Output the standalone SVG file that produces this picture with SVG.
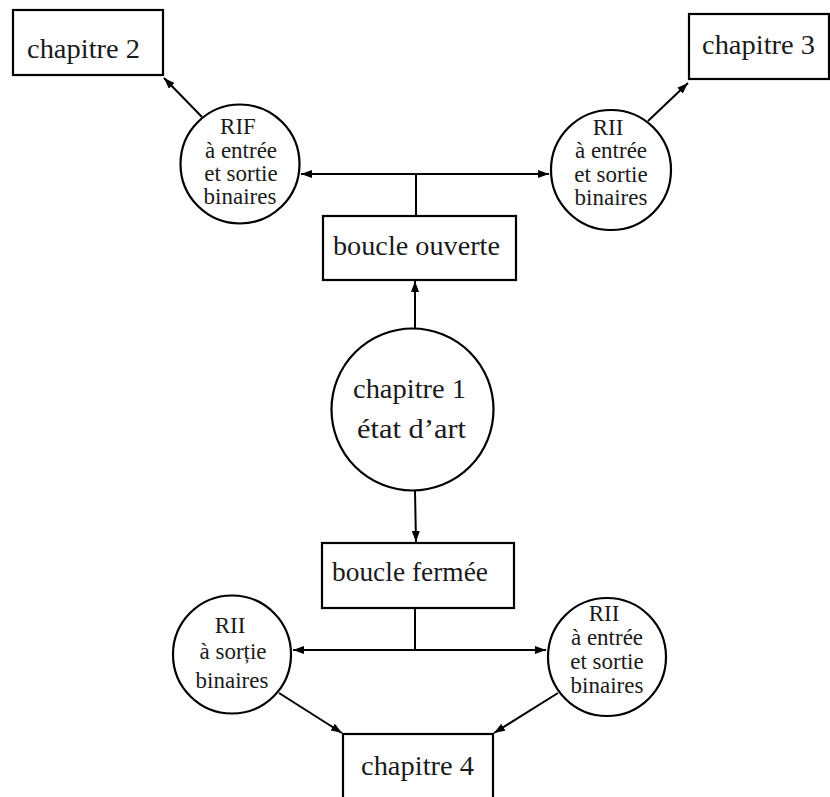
<svg xmlns="http://www.w3.org/2000/svg" width="830" height="797" viewBox="0 0 830 797">
<defs>
<marker id="ah" markerUnits="userSpaceOnUse" markerWidth="11" markerHeight="8" refX="11" refY="4" orient="auto">
<path d="M0,0 L11,4 L0,8 z" fill="#000"/>
</marker>
<style>
.box{fill:#fff;stroke:#000;stroke-width:2.2}
.circ{fill:#fff;stroke:#000;stroke-width:2.2}
text{font-family:'Liberation Serif','Times New Roman',serif;fill:#1a1a1a}
.big{font-size:28px}
.sm{font-size:23px;text-anchor:middle}
.c1{font-size:28px;text-anchor:middle}
.ln{stroke:#000;stroke-width:2;fill:none}
.ar{stroke:#000;stroke-width:2;fill:none;marker-end:url(#ah)}
</style>
</defs>
<rect width="830" height="797" fill="#fff"/>
<g id="connectors">
<line class="ar" x1="202" y1="117" x2="164" y2="78"/>
<line class="ar" x1="648" y1="121" x2="688" y2="83"/>
<line class="ar" x1="415" y1="328" x2="415" y2="281"/>
<line class="ar" x1="415" y1="491" x2="416" y2="542"/>
<line class="ln" x1="416" y1="216" x2="416" y2="174"/>
<line class="ar" x1="416" y1="174" x2="301" y2="174"/>
<line class="ar" x1="416" y1="174" x2="549" y2="174"/>
<line class="ln" x1="415" y1="608" x2="415" y2="650"/>
<line class="ar" x1="415" y1="650" x2="293" y2="650"/>
<line class="ar" x1="415" y1="650" x2="546" y2="650"/>
<line class="ar" x1="279" y1="693" x2="342" y2="733"/>
<line class="ar" x1="558" y1="693" x2="494" y2="733"/>
</g>
<g id="chapitre2">
<rect class="box" x="13" y="10" width="150" height="65"/>
<text class="big" x="27" y="58" textLength="113" lengthAdjust="spacingAndGlyphs">chapitre 2</text>
</g>
<g id="chapitre3">
<rect class="box" x="689" y="14" width="140" height="65"/>
<text class="big" x="702" y="54" textLength="113" lengthAdjust="spacingAndGlyphs">chapitre 3</text>
</g>
<g id="rif">
<circle class="circ" cx="240" cy="164" r="59.5"/>
<text class="sm" x="238" y="134">RIF</text>
<text class="sm" x="241" y="158">à entrée</text>
<text class="sm" x="241" y="181">et sortie</text>
<text class="sm" x="240" y="204">binaires</text>
</g>
<g id="rii-top">
<circle class="circ" cx="611" cy="170" r="60"/>
<text class="sm" x="608" y="135">RII</text>
<text class="sm" x="611" y="158">à entrée</text>
<text class="sm" x="611" y="182">et sortie</text>
<text class="sm" x="611" y="205">binaires</text>
</g>
<g id="boucle-ouverte">
<rect class="box" x="323" y="216" width="193" height="64"/>
<text class="big" x="333" y="255" textLength="167" lengthAdjust="spacingAndGlyphs">boucle ouverte</text>
</g>
<g id="chapitre1">
<circle class="circ" cx="412.5" cy="409.5" r="81"/>
<text class="c1" x="409.5" y="398" textLength="113" lengthAdjust="spacingAndGlyphs">chapitre 1</text>
<text class="c1" x="411.5" y="438" textLength="109" lengthAdjust="spacingAndGlyphs">état d’art</text>
</g>
<g id="boucle-fermee">
<rect class="box" x="322" y="543" width="192" height="65"/>
<text class="big" x="332" y="581" textLength="156" lengthAdjust="spacingAndGlyphs">boucle fermée</text>
</g>
<g id="rii-left">
<circle class="circ" cx="232" cy="654.5" r="59"/>
<text class="sm" x="230" y="633">RII</text>
<text class="sm" x="233" y="659">à sorție</text>
<text class="sm" x="232" y="688">binaires</text>
</g>
<g id="rii-right">
<circle class="circ" cx="607" cy="657" r="59"/>
<text class="sm" x="604" y="621">RII</text>
<text class="sm" x="607" y="645">à entrée</text>
<text class="sm" x="607" y="669">et sortie</text>
<text class="sm" x="607" y="693">binaires</text>
</g>
<g id="chapitre4">
<rect class="box" x="343" y="734" width="150" height="75"/>
<text class="big" x="361" y="775" textLength="113" lengthAdjust="spacingAndGlyphs">chapitre 4</text>
</g>
</svg>
